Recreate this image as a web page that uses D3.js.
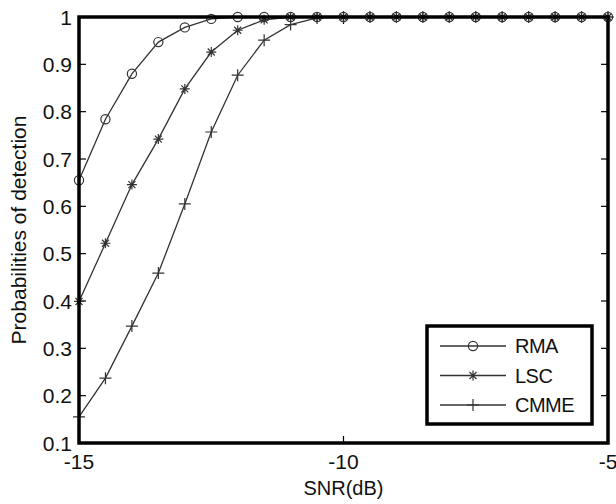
<!DOCTYPE html>
<html>
<head>
<meta charset="utf-8">
<script src="https://cdn.jsdelivr.net/npm/d3@7"></script>
<style>
	body { margin: 0; background: #fff; }
	text { font-family: "Liberation Sans", Arial, sans-serif; fill: #111; }
</style>
</head>
<body>
<div id="chart"></div>
<script>

// SNR values (dB)
var snr = [-15, -14.5, -14, -13.5, -13, -12.5, -12, -11.5, -11, -10.5, -10,
	-9.5, -9, -8.5, -8, -7.5, -7, -6.5, -6, -5.5, -5];

// probabilities of detection per method
var rma = [0.655, 0.784, 0.880, 0.947, 0.978, 0.996, 1, 1, 1, 1, 1,
	1, 1, 1, 1, 1, 1, 1, 1, 1, 1];
var lsc = [0.399, 0.522, 0.646, 0.742, 0.848, 0.926, 0.972, 0.994, 1, 1, 1,
	1, 1, 1, 1, 1, 1, 1, 1, 1, 1];
var cmme = [0.155, 0.237, 0.347, 0.459, 0.605, 0.757, 0.877, 0.951, 0.984, 0.998, 1,
	1, 1, 1, 1, 1, 1, 1, 1, 1, 1];

var seriesNames = ["RMA", "LSC", "CMME"];
var seriesMarkers = ["circle", "star", "plus"];

var xTicks = [-15, -10, -5];
var yTicks = [0.1, 0.2, 0.3, 0.4, 0.5, 0.6, 0.7, 0.8, 0.9, 1];

// set margins to the graph
var margin = {top: 17, right: 8, bottom: 61, left: 79};
var width = 616 - margin.left - margin.right;
var height = 504 - margin.top - margin.bottom;

var svg = d3.select("#chart")
	.append("svg")
	.attr("width", 616)
	.attr("height", 504);

var g = svg.append("g")
	.attr("transform", "translate(" + margin.left + "," + margin.top + ")");

var x = d3.scaleLinear().domain([-15, -5]).range([0, width]);
var y = d3.scaleLinear().domain([0.1, 1]).range([height, 0]);

var lineColor = "#333";

// tick marks, inside the box on all four sides
var tickLen = 7;
g.selectAll(".ytick-l").data(yTicks).enter().append("line")
	.attr("x1", 0).attr("x2", tickLen)
	.attr("y1", function(d) { return y(d); }).attr("y2", function(d) { return y(d); })
	.style("stroke", "#000").style("stroke-width", 1.2);
g.selectAll(".ytick-r").data(yTicks).enter().append("line")
	.attr("x1", width - tickLen).attr("x2", width)
	.attr("y1", function(d) { return y(d); }).attr("y2", function(d) { return y(d); })
	.style("stroke", "#000").style("stroke-width", 1.2);
g.selectAll(".xtick-b").data(xTicks).enter().append("line")
	.attr("x1", function(d) { return x(d); }).attr("x2", function(d) { return x(d); })
	.attr("y1", height).attr("y2", height - tickLen)
	.style("stroke", "#000").style("stroke-width", 1.2);
g.selectAll(".xtick-t").data(xTicks).enter().append("line")
	.attr("x1", function(d) { return x(d); }).attr("x2", function(d) { return x(d); })
	.attr("y1", 0).attr("y2", tickLen)
	.style("stroke", "#000").style("stroke-width", 1.2);

// tick labels
g.selectAll(".ylabel").data(yTicks).enter().append("text")
	.attr("x", -7)
	.attr("y", function(d) { return y(d); })
	.attr("dy", "0.36em")
	.attr("text-anchor", "end")
	.style("font-size", "21px")
	.text(function(d) { return d === 1 ? "1" : d3.format(".1f")(d); });

g.selectAll(".xlabel").data(xTicks).enter().append("text")
	.attr("x", function(d) { return x(d); })
	.attr("y", height + 26)
	.attr("text-anchor", "middle")
	.style("font-size", "21px")
	.text(function(d) { return d; });

// axis titles
g.append("text")
	.attr("x", width / 2)
	.attr("y", height + 52)
	.attr("text-anchor", "middle")
	.style("font-size", "20px")
	.text("SNR(dB)");

g.append("text")
	.attr("transform", "translate(" + (26 - margin.left) + "," + (height / 2) + ") rotate(-90)")
	.attr("text-anchor", "middle")
	.style("font-size", "21px")
	.text("Probabilities of detection");

// draw one marker shape at (0,0)
function drawMarker(sel, type) {
	if (type === "circle") {
		sel.append("circle").attr("r", 4.6)
			.style("fill", "none").style("stroke", lineColor).style("stroke-width", 1.2);
	} else if (type === "star") {
		var s = 5;
		var p = "M" + (-s) + ",0L" + s + ",0M0," + (-s) + "L0," + s
			+ "M" + (-s * 0.7) + "," + (-s * 0.7) + "L" + (s * 0.7) + "," + (s * 0.7)
			+ "M" + (-s * 0.7) + "," + (s * 0.7) + "L" + (s * 0.7) + "," + (-s * 0.7);
		sel.append("path").attr("d", p)
			.style("fill", "none").style("stroke", lineColor).style("stroke-width", 1.2);
	} else {
		var s2 = 6;
		var p2 = "M" + (-s2) + ",0L" + s2 + ",0M0," + (-s2) + "L0," + s2;
		sel.append("path").attr("d", p2)
			.style("fill", "none").style("stroke", lineColor).style("stroke-width", 1.2);
	}
}

var allSeries = [rma, lsc, cmme];

var line = d3.line()
	.x(function(d, i) { return x(snr[i]); })
	.y(function(d) { return y(d); });

allSeries.forEach(function(vals, k) {
	g.append("path")
		.datum(vals)
		.attr("d", line)
		.style("fill", "none")
		.style("stroke", lineColor)
		.style("stroke-width", 1.3);

	g.selectAll(".m" + k)
		.data(vals)
		.enter()
		.append("g")
		.attr("transform", function(d, i) { return "translate(" + x(snr[i]) + "," + y(d) + ")"; })
		.each(function() { drawMarker(d3.select(this), seriesMarkers[k]); });
});

// frame around the plot
g.append("rect")
	.attr("x", 0).attr("y", 0)
	.attr("width", width).attr("height", height)
	.style("fill", "none")
	.style("stroke", "#000")
	.style("stroke-width", 3.5);

// legend box
var legend = svg.append("g").attr("transform", "translate(427,326)");
legend.append("rect")
	.attr("width", 165).attr("height", 98)
	.style("fill", "#fff")
	.style("stroke", "#000")
	.style("stroke-width", 3.5);

var rows = legend.selectAll(".legend")
	.data(seriesNames)
	.enter()
	.append("g")
	.attr("transform", function(d, i) { return "translate(0," + (20 + i * 29.5) + ")"; });

rows.append("line")
	.attr("x1", 13).attr("x2", 79)
	.style("stroke", lineColor).style("stroke-width", 1.3);

rows.append("g")
	.attr("transform", "translate(46,0)")
	.each(function(d, i) { drawMarker(d3.select(this), seriesMarkers[i]); });

rows.append("text")
	.attr("x", 88)
	.attr("dy", "0.36em")
	.style("font-size", "20px")
	.style("letter-spacing", "-0.5px")
	.text(function(d) { return d; });

</script>
</body>
</html>
